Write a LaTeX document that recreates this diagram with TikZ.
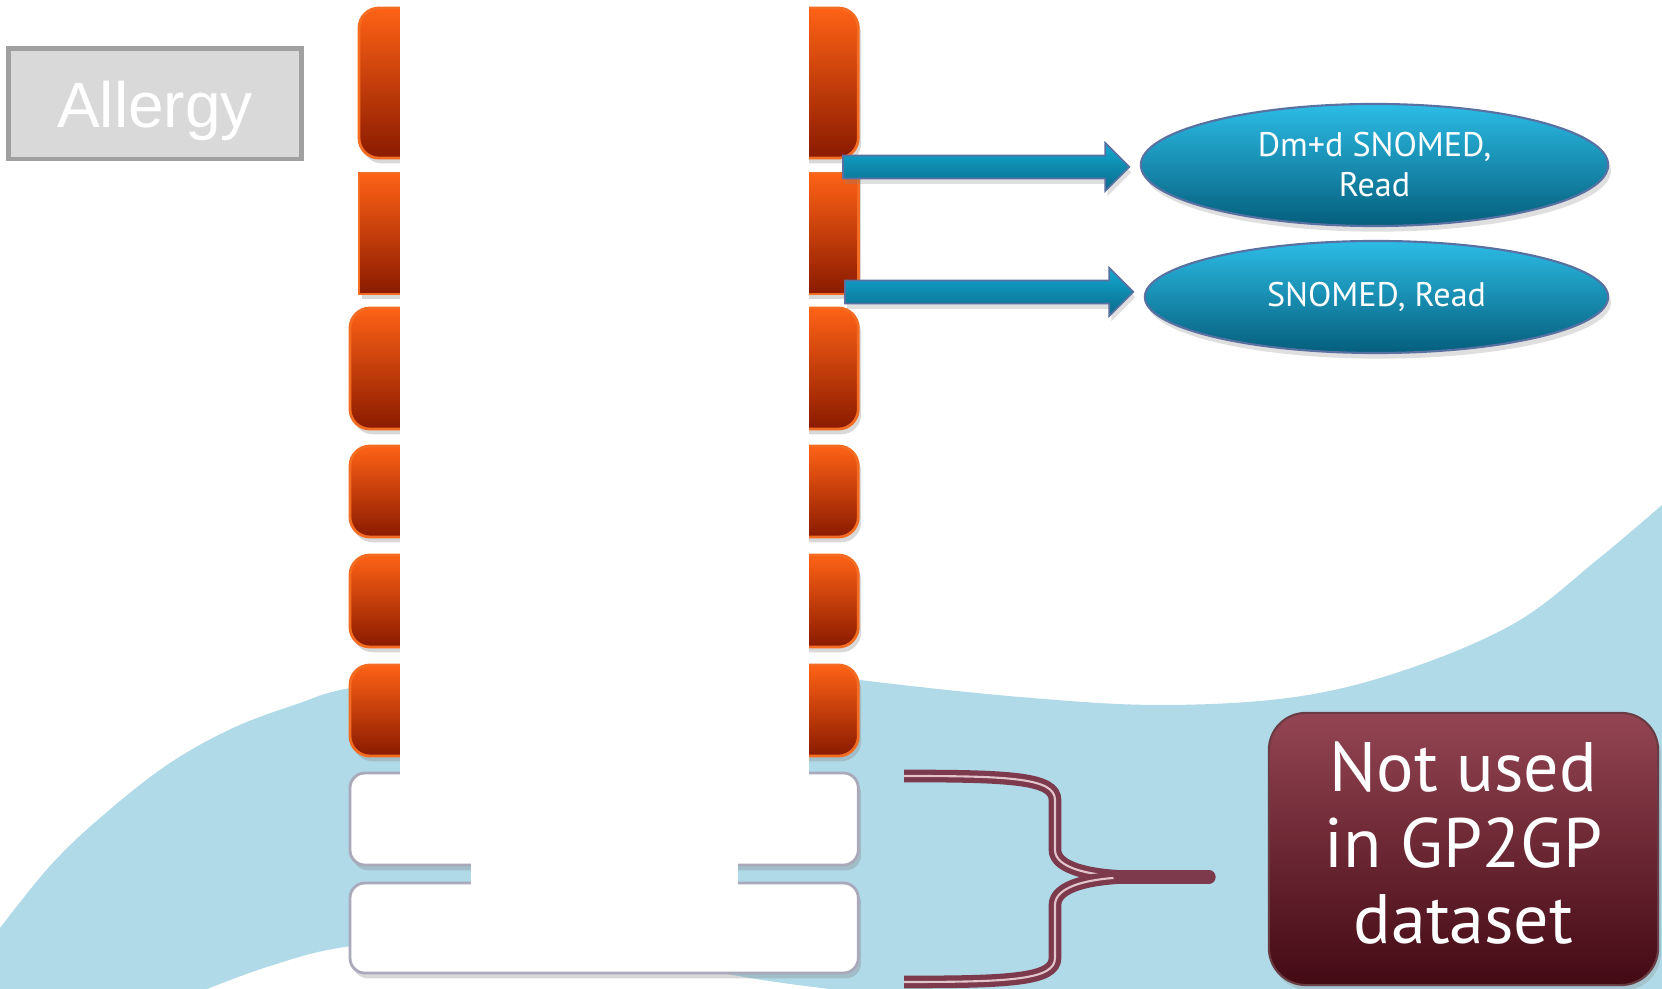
\documentclass[tikz,border=0pt]{standalone}
\usepackage{fontspec}
\setmainfont{PT Sans}
\newfontfamily\arialfont{Liberation Sans}
\usepackage{tikz}
\usetikzlibrary{shapes,shadows,calc,positioning}

\definecolor{wavecol}{HTML}{B0DAE8}
\definecolor{greyfill}{HTML}{D9D9D9}
\definecolor{greyline}{HTML}{A0A0A0}
\definecolor{orangetop}{HTML}{FE6216}
\definecolor{orangemid}{HTML}{DD3D02}
\definecolor{orangebot}{HTML}{8A1A00}
\definecolor{orangeline}{HTML}{F36C21}
\definecolor{whiteline}{HTML}{A9A9BB}
\definecolor{bluetop}{HTML}{2CBCE6}
\definecolor{bluebot}{HTML}{055E7C}
\definecolor{arrowtop}{HTML}{12AAD2}
\definecolor{arrowbot}{HTML}{0A6A8A}
\definecolor{blueline}{HTML}{5870A2}
\definecolor{maroontop}{HTML}{944553}
\definecolor{maroonbot}{HTML}{430A14}
\definecolor{bracecol}{HTML}{7C3A4C}
\definecolor{bracelight}{HTML}{E2C4CC}

% fat arrow from a tail coordinate to just short of a node anchor
\newcommand{\fatarrow}[2]{%
  \path[fatshape] let \p1=(#1), \p2=(#2) in
    ({\x1},{\y1+3.3pt}) -- ({\x2-9.8pt},{\y1+3.3pt}) -- ({\x2-9.8pt},{\y1+6.8pt})
    -- ({\x2-3pt},{\y1}) -- ({\x2-9.8pt},{\y1-6.8pt}) -- ({\x2-9.8pt},{\y1-3.3pt})
    -- ({\x1},{\y1-3.3pt}) -- cycle;}

\begin{document}
\begin{tikzpicture}[x=0.01cm, y=-0.01cm,
    blk/.style={rectangle, rounded corners=2mm, inner sep=0pt, outer sep=0pt,
        anchor=north west, minimum width=50.8mm, draw=orangeline, line width=0.8pt,
        top color=orangetop, middle color=orangemid, bottom color=orangebot,
        drop shadow={opacity=0.3, shadow xshift=0.8pt, shadow yshift=-1.5pt}},
    wblk/.style={blk, rounded corners=1.5mm, draw=whiteline, top color=white,
        middle color=white, bottom color=white},
    codes/.style={ellipse, inner sep=0pt, draw=blueline, line width=0.6pt,
        top color=bluetop, bottom color=bluebot, text=white, align=center,
        font=\fontsize{9.7pt}{11.4pt}\selectfont,
        drop shadow={opacity=0.25, shadow xshift=0.8pt, shadow yshift=-1.6pt}},
    fatshape/.style={draw=blueline, line width=0.5pt, top color=arrowtop,
        bottom color=arrowbot,
        drop shadow={opacity=0.25, shadow xshift=0.6pt, shadow yshift=-1.5pt}},
    bracel/.style={draw=bracecol, line width=1.5pt, double=bracelight,
        double distance=0.6pt}]
    \useasboundingbox (0,0) rectangle (1662,989);
    \fill[white] (0,0) rectangle (1662,989);

    % background wave
    \fill[wavecol] plot[smooth, tension=0.6] coordinates {(0,928) (50,866) (100,818)
        (167,765) (233,728) (300,703) (350,688) (500,662) (650,656) (790,668)
        (860,680) (1020,697) (1160,705) (1295,697) (1405,670) (1515,623)
        (1597,560) (1662,505)}
        -- (1662,989) -- (830,989)
        -- plot[smooth, tension=0.6] coordinates {(830,989) (733,975) (600,945)
        (470,937) (345,947) (270,966) (207,989)}
        -- (0,989) -- cycle;

    \node[rectangle, draw=greyline, fill=greyfill, line width=1.4pt,
        minimum width=29.2mm, minimum height=11mm, inner sep=0pt, text=white,
        text depth=0pt, font=\arialfont\fontsize{18.2pt}{20pt}\selectfont]
        (allergy) at (155,104) {Allergy};

    \node[blk, minimum width=49.9mm, minimum height=15mm] (blk1) at (359,8) {};
    \node[blk, sharp corners, minimum width=49.9mm, minimum height=12.1mm] (blk2) at (359,173) {};
    \node[blk, minimum height=12.1mm] (blk3) at (350,308) {};
    \node[blk, minimum height=9.1mm] (blk4) at (350,446) {};
    \node[blk, minimum height=9.2mm] (blk5) at (350,555) {};
    \node[blk, minimum height=9.1mm] (blk6) at (350,665) {};
    \node[wblk, minimum height=9.2mm] (blk7) at (350,773) {};
    \node[wblk, minimum height=9mm] (blk8) at (350,883) {};

    % blank middle of the column
    \fill[white] (400,0) rectangle (809,792);
    \fill[white] (471,792) rectangle (738,900);

    \node[codes, minimum width=46.7mm, minimum height=12.2mm] (dmd) at (1374.5,165)
        {Dm+d SNOMED,\\Read};
    \node[codes, minimum width=46.3mm, minimum height=11.2mm] (snomed) at (1376.5,297)
        {SNOMED, Read};

    \coordinate (t1) at (843,167);
    \coordinate (t2) at (845,292);
    \fatarrow{t1}{dmd.west}
    \fatarrow{t2}{snomed.west}

    % brace round the two white rows
    \coordinate (bup) at (904,776);
    \coordinate (bdn) at (904,982);
    \coordinate (btip) at (1209,877);
    \draw[bracel] (bup) .. controls (1010,776) and (1055,778) .. (1055,800)
        -- (1055,850) .. controls (1055,868) and (1090,877) .. (1140,877) -- (btip);
    \draw[bracel] (bdn) .. controls (1010,982) and (1055,980) .. (1055,958)
        -- (1055,905) .. controls (1055,886) and (1090,877) .. (1140,877) -- (btip);
    \draw[bracecol, line width=3.8pt, line cap=round] (1120,877) -- (btip);

    \node[rectangle, rounded corners=3.7mm, minimum width=38.9mm, minimum height=27.2mm,
        inner sep=0pt, draw=maroonbot!80, line width=0.6pt, top color=maroontop,
        bottom color=maroonbot, text=white, align=center,
        font=\fontsize{19.9pt}{21.6pt}\selectfont,
        drop shadow={opacity=0.25, shadow xshift=0.8pt, shadow yshift=-1.5pt}]
        (notused) at (1463.5,849) {};
    \node[text=white, align=center, font=\fontsize{19.9pt}{21.6pt}\selectfont]
        at ([yshift=1.6pt]notused.center) {Not used\\in GP2GP\\dataset};
\end{tikzpicture}
\end{document}
